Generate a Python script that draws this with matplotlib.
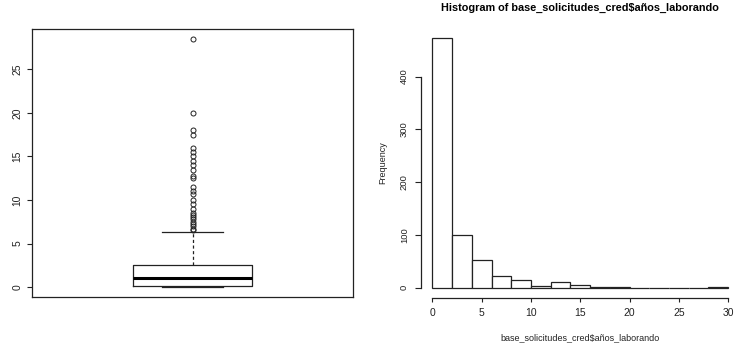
import matplotlib
matplotlib.use("Agg")
import matplotlib.pyplot as plt
import numpy as np

plt.rcParams['font.family'] = ['Liberation Sans', 'DejaVu Sans']

# Boxplot summary (años_laborando)
box_q1 = 0.17
box_median = 1.0
box_q3 = 2.5
whisker_low = 0.0
whisker_high = 6.3
outliers = [28.5, 20, 18, 17.5, 16, 15.5, 15, 14.5, 14, 13.5, 12.8, 12.5,
            11.5, 11, 10.7, 10, 9.5, 9, 8.5, 8.3, 8, 7.8, 7.5, 7.3, 7, 6.7, 6.5]

# Histogram
bin_edges = [0, 2, 4, 6, 8, 10, 12, 14, 16, 18, 20, 22, 24, 26, 28, 30]
bin_counts = [473, 99, 53, 23, 15, 4, 11, 6, 2, 2, 0, 0, 0, 0, 1]

box_yticks = [0, 5, 10, 15, 20, 25]
hist_yticks = [0, 100, 200, 300, 400]
hist_xticks = [0, 5, 10, 15, 20, 25, 30]

W, H = 737, 343
fig = plt.figure(figsize=(W / 100, H / 100), dpi=100)

fs = 6.5
col = '#222222'
px = 72 / 100  # points per pixel

# ---- Left: boxplot ----
ax1 = fig.add_axes([32 / W, (H - 297) / H, (353 - 32) / W, (297 - 29) / H])
stats = [dict(med=box_median, q1=box_q1, q3=box_q3, whislo=whisker_low,
              whishi=whisker_high, fliers=outliers)]
ax1.bxp(stats, positions=[1], widths=0.37, capwidths=0.19,
        boxprops=dict(color=col, lw=0.9),
        medianprops=dict(color='black', lw=2.2),
        whiskerprops=dict(color=col, lw=0.9, ls=(0, (2.5, 2))),
        capprops=dict(color=col, lw=0.9),
        flierprops=dict(marker='o', markersize=3.6, markerfacecolor='none',
                        markeredgecolor=col, markeredgewidth=0.7))
ax1.set_xlim(0.5, 1.5)
lo = min(whisker_low, min(outliers))
hi = max(outliers)
pad = (hi - lo) * 0.04
ax1.set_ylim(lo - pad, hi + pad)
ax1.set_xticks([])
ax1.set_yticks(box_yticks)
ax1.set_yticklabels([str(t) for t in box_yticks], rotation=90, va='center',
                    fontsize=7.4, color=col)
ax1.tick_params(axis='y', direction='out', length=5.5 * px, width=0.8,
                color=col, pad=4.0 * px)
for s in ax1.spines.values():
    s.set_color(col)
    s.set_linewidth(0.9)

# ---- Right: histogram ----
xl0, xl1 = bin_edges[0], bin_edges[-1]
xpad = (xl1 - xl0) * 0.04
ymax = max(bin_counts)
ypad = ymax * 0.04
ax2 = fig.add_axes([420.5 / W, (H - 297.7) / H, 319.5 / W, (297.7 - 28) / H])
ax2.hist(bin_edges[:-1], bins=bin_edges, weights=bin_counts,
         histtype='bar', facecolor='white', edgecolor=col, linewidth=0.9)
ax2.set_xlim(xl0 - xpad, xl1 + xpad)
ax2.set_ylim(-ypad, ymax + ypad)
ax2.spines['top'].set_visible(False)
ax2.spines['right'].set_visible(False)
ax2.spines['left'].set_bounds(hist_yticks[0], hist_yticks[-1])
ax2.spines['bottom'].set_bounds(hist_xticks[0], hist_xticks[-1])
for s in ('left', 'bottom'):
    ax2.spines[s].set_color(col)
    ax2.spines[s].set_linewidth(0.9)
ax2.set_yticks(hist_yticks)
ax2.set_yticklabels([str(t) for t in hist_yticks], rotation=90, va='center',
                    fontsize=6.8, color=col)
ax2.set_xticks(hist_xticks)
ax2.set_xticklabels([str(t) for t in hist_xticks], fontsize=7.5, color=col)
ax2.tick_params(axis='x', direction='out', length=4 * px, width=0.8,
                color=col, pad=6.6 * px)
ax2.tick_params(axis='y', direction='out', length=6.5 * px, width=0.8,
                color=col, pad=5.2 * px)

fig.text(580 / W, 1 - 7.5 / H, 'Histogram of base_solicitudes_cred$años_laborando',
         ha='center', va='center', fontsize=7.85, fontweight='bold', color='black')
fig.text(580 / W, 1 - 337.5 / H, 'base_solicitudes_cred$años_laborando',
         ha='center', va='center', fontsize=fs, color=col)
fig.text(383 / W, 1 - 163 / H, 'Frequency', rotation=90,
         ha='center', va='center', fontsize=fs, color=col)

fig.savefig('out.png', dpi=100)
